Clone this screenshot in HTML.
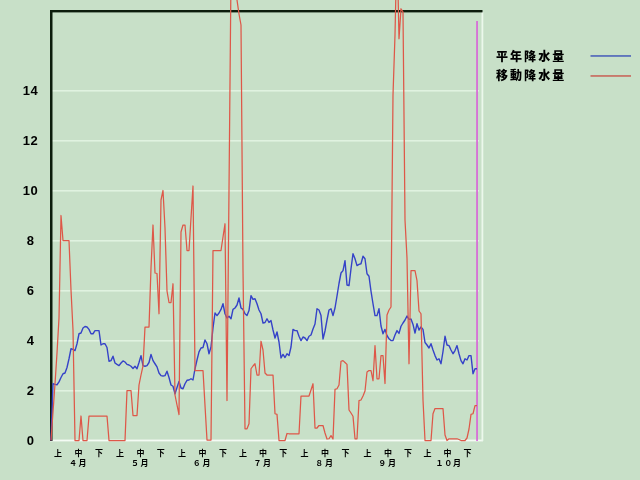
<!DOCTYPE html>
<html lang="ja"><head><meta charset="utf-8"><title>降水量</title>
<style>
html,body{margin:0;padding:0;background:#c8e0c8;}
body{width:640px;height:480px;overflow:hidden;}
svg{display:block}
.yl{font:bold 13px "Liberation Sans","Noto Sans CJK JP",sans-serif;letter-spacing:0.5px;fill:#000}
.xl{font:bold 8px "Liberation Sans","Noto Sans CJK JP",sans-serif;fill:#000}
.lg{font:900 12px "Liberation Sans","Noto Sans CJK JP",sans-serif;letter-spacing:2.05px;fill:#000}
</style></head><body>
<svg width="640" height="480" viewBox="0 0 640 480">
<rect width="640" height="480" fill="#c8e0c8"/>
<rect x="52" y="90" width="427" height="1.6" fill="#e0f2e0"/><rect x="52" y="140" width="427" height="1.6" fill="#e0f2e0"/><rect x="52" y="190" width="427" height="1.6" fill="#e0f2e0"/><rect x="52" y="240" width="427" height="1.6" fill="#e0f2e0"/><rect x="52" y="290" width="427" height="1.6" fill="#e0f2e0"/><rect x="52" y="340" width="427" height="1.6" fill="#e0f2e0"/><rect x="52" y="390" width="427" height="1.6" fill="#e0f2e0"/>
<rect x="50" y="439.6" width="433" height="1.8" fill="#f4fbf4"/>
<rect x="481.5" y="12" width="1.8" height="429" fill="#ecf8ec"/>
<rect x="50" y="10" width="432.5" height="2.4" fill="#0c1c0c"/>
<rect x="50" y="10" width="2.5" height="431" fill="#0c1c0c"/>
<rect x="476.2" y="21" width="1.7" height="420" fill="#d868d8"/>
<polyline fill="none" stroke="#3542c8" stroke-width="1.4" stroke-linejoin="round" points="51,440.5 53,383.75 55,384.4 57,384.75 59,381.9 61,377.5 63,373.75 65,373 67,367.5 69,358.75 71,348.75 73,349.4 75,350.6 77,343.75 79,333.75 81,333 83,328 85,326.5 87,327 89,329.4 91,333.75 93,333.75 95,330.6 97,330.6 99,330.6 101,345 103,343.75 105,343.75 107,347.5 109,361.25 111,360.6 113,356.25 115,363 117,364.4 119,365.6 121,363 123,360.9 125,362 127,364.4 129,365 131,366.25 133,368.5 135,366.25 137,368.75 139,362.5 141,355.6 143,365.6 145,366.25 147,365.6 149,362.5 151,354.4 153,360.6 155,363.75 157,366.9 159,373 161,375.6 163,376 165,375.6 167,371.25 169,377.5 171,385 173,386.25 175,393.75 177,387.5 179,381.5 181,388 183,388.75 185,383.75 187,380.3 189,380 191,378.75 193,380 195,368.75 197,360 199,351.9 201,348 203,347.5 205,340 207,343.75 209,353.75 211,347 213,328 215,313 217,315.6 219,313 221,309.4 223,303.75 225,313.75 227,318 229,316.25 231,318.75 233,309.4 235,308 237,305 239,298 241,308 243,309.4 245,313.75 247,315.6 249,310.6 251,295.6 253,299.4 255,298.75 257,303.75 259,310 261,313.75 263,323 265,322.5 267,318.75 269,322.5 271,320.6 273,330 275,338 277,332 279,342 281,358 283,354.4 285,357.5 287,353.75 289,355.6 291,347 293,329.4 295,330.6 297,330.6 299,336.25 301,340.6 303,337 305,338 307,340.6 309,336.25 311,335 313,329 315,324 317,308.75 319,310 321,315.6 323,339 325,331 327,320 329,310 331,308.75 333,315.6 335,308 337,296 339,283.5 341,273 343,270.6 345,260.6 347,285 349,285.6 351,268.75 353,253.75 355,258.75 357,265.6 359,264.4 361,263.75 363,256.25 365,258.75 367,273.75 369,276.25 371,291.25 373,303.75 375,315.6 377,315.6 379,308.75 381,326 383,333.75 385,329.4 387,335.6 389,338.75 391,340.6 393,340.6 395,335 397,330.6 399,333.4 401,326.25 403,323 405,320 407,316 409,319.4 411,319 413,324.4 415,333 417,323.75 419,330 421,327 423,329.4 425,342.5 427,345 429,348 431,343.75 433,350 435,355.6 437,360 439,358.75 441,363.75 443,351.5 445,336.25 447,345 449,345.6 451,350 453,353.75 455,350.6 457,345.6 459,353.75 461,360.6 463,363.75 465,358.75 467,360 469,355.6 471,355.6 473,373.75 475,368.75 477,368.75"/>
<polyline fill="none" stroke="#de5748" stroke-width="1.25" stroke-linejoin="round" points="51,440.5 53,412 55,384 57,353 59,318 61,215.5 63,240.5 65,240.5 67,240.5 69,240.5 71,290 73,330 75,440.5 77,440.5 79,440.5 81,416 83,440.5 85,440.5 87,440.5 89,416 91,416 93,416 95,416 97,416 99,416 101,416 103,416 105,416 107,416 109,440.5 111,440.5 113,440.5 115,440.5 117,440.5 119,440.5 121,440.5 123,440.5 125,440.5 127,390.5 129,390.5 131,390.5 133,415.5 135,415.5 137,415.5 139,385 141,375 143,366 145,327 147,327 149,327 151,268 153,225 155,273 157,273.5 159,313.75 161,200 163,190.5 165,228 167,291 169,302.5 171,302.5 173,283.75 175,395 177,405 179,414.5 181,232 183,225 185,225 187,250.5 189,250.5 191,218 193,186 195,370.5 197,370.5 199,370.5 201,370.5 203,370.5 205,405.5 207,440 209,440 211,440 213,250.5 215,250.5 217,250.5 219,250.5 221,250.5 223,237 225,223.75 227,400.5 229,190 231,-25 233,-60 235,-60 237,0 239,14 241,25 243,270 245,428.75 247,428.75 249,423.75 251,368.75 253,366 255,363.75 257,375 259,375 261,341.25 263,350 265,373 267,375 269,375 271,375 273,375 275,413.75 277,414.4 279,440.5 281,440.5 283,440.5 285,440.5 287,433.5 289,433.75 291,433.75 293,433.75 295,433.75 297,433.75 299,433.75 301,396 303,396 305,396 307,396 309,396 311,390 313,383.75 315,428 317,428 319,425.5 321,425.5 323,425.5 325,433 327,439 329,438.75 331,435.6 333,439 335,389.4 337,388.75 339,385 341,361.25 343,360.6 345,362.5 347,364.4 349,410 351,413 353,416.25 355,438.75 357,438.75 359,400.6 361,400 363,396 365,391 367,372 369,370.5 371,370.5 373,380.6 375,345.6 377,378.75 379,378.75 381,355.6 383,355.6 385,383.5 387,315 389,310 391,307 393,95 395,35 397,-58 399,38.75 401,8.75 403,12 405,220 407,258 409,363.75 411,270.6 413,270.6 415,270.6 417,280.6 419,311 421,313.75 423,400 425,440.5 427,440.5 429,440.5 431,440.5 433,413.75 435,408.5 437,408.5 439,408.5 441,408.5 443,408.5 445,435 447,440.5 449,438.75 451,438.75 453,438.75 455,438.75 457,438.75 459,439.5 461,440.5 463,440.5 465,440.5 467,438 469,429 471,414.4 473,413.75 475,405.6 477,405.6"/>
<text x="30.5" y="95.4" text-anchor="middle" class="yl">14</text><text x="30.5" y="145.4" text-anchor="middle" class="yl">12</text><text x="30.5" y="195.4" text-anchor="middle" class="yl">10</text><text x="30.5" y="245.4" text-anchor="middle" class="yl">8</text><text x="30.5" y="295.4" text-anchor="middle" class="yl">6</text><text x="30.5" y="345.4" text-anchor="middle" class="yl">4</text><text x="30.5" y="395.4" text-anchor="middle" class="yl">2</text><text x="30.5" y="445.4" text-anchor="middle" class="yl">0</text>
<text x="58" y="455.6" text-anchor="middle" class="xl">上</text><text x="78.6" y="455.6" text-anchor="middle" class="xl">中</text><text x="98.9" y="455.6" text-anchor="middle" class="xl">下</text><text x="73" y="466.4" text-anchor="middle" class="xl">４</text><text x="82.6" y="466.4" text-anchor="middle" class="xl">月</text><text x="119.9" y="455.6" text-anchor="middle" class="xl">上</text><text x="140.5" y="455.6" text-anchor="middle" class="xl">中</text><text x="160.75" y="455.6" text-anchor="middle" class="xl">下</text><text x="134.9" y="466.4" text-anchor="middle" class="xl">５</text><text x="144.5" y="466.4" text-anchor="middle" class="xl">月</text><text x="182.1" y="455.6" text-anchor="middle" class="xl">上</text><text x="202.4" y="455.6" text-anchor="middle" class="xl">中</text><text x="223" y="455.6" text-anchor="middle" class="xl">下</text><text x="196.8" y="466.4" text-anchor="middle" class="xl">６</text><text x="206.4" y="466.4" text-anchor="middle" class="xl">月</text><text x="242.9" y="455.6" text-anchor="middle" class="xl">上</text><text x="263.1" y="455.6" text-anchor="middle" class="xl">中</text><text x="283.25" y="455.6" text-anchor="middle" class="xl">下</text><text x="257.5" y="466.4" text-anchor="middle" class="xl">７</text><text x="267.1" y="466.4" text-anchor="middle" class="xl">月</text><text x="304.6" y="455.6" text-anchor="middle" class="xl">上</text><text x="324.9" y="455.6" text-anchor="middle" class="xl">中</text><text x="345.5" y="455.6" text-anchor="middle" class="xl">下</text><text x="319.3" y="466.4" text-anchor="middle" class="xl">８</text><text x="328.9" y="466.4" text-anchor="middle" class="xl">月</text><text x="367.6" y="455.6" text-anchor="middle" class="xl">上</text><text x="387.9" y="455.6" text-anchor="middle" class="xl">中</text><text x="408.1" y="455.6" text-anchor="middle" class="xl">下</text><text x="382.3" y="466.4" text-anchor="middle" class="xl">９</text><text x="391.9" y="466.4" text-anchor="middle" class="xl">月</text><text x="427.6" y="455.6" text-anchor="middle" class="xl">上</text><text x="447.5" y="455.6" text-anchor="middle" class="xl">中</text><text x="467.4" y="455.6" text-anchor="middle" class="xl">下</text><text x="439.4" y="466.4" text-anchor="middle" class="xl">１</text><text x="448.2" y="466.4" text-anchor="middle" class="xl">０</text><text x="457" y="466.4" text-anchor="middle" class="xl">月</text>
<text x="496" y="60.8" class="lg">平年降水量</text>
<text x="496" y="80.3" class="lg">移動降水量</text>
<rect x="590.5" y="55" width="40.5" height="1.9" fill="#6076bc"/>
<rect x="590.5" y="75" width="40.5" height="1.9" fill="#c87a6c"/>
</svg>
</body></html>
